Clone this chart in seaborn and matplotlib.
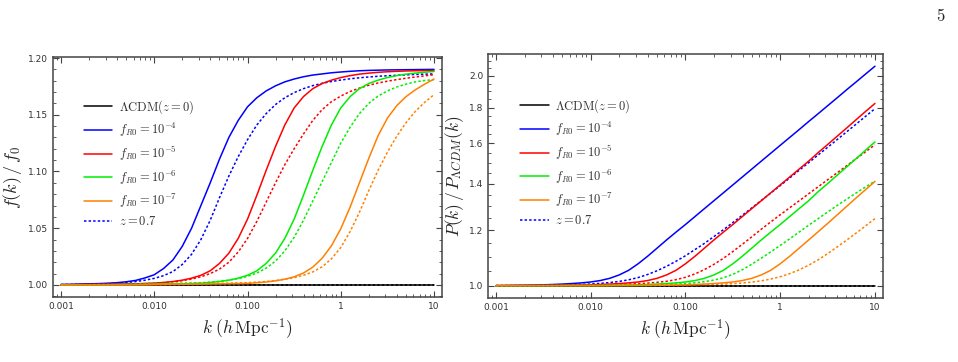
import numpy as np
import pandas as pd
import matplotlib
matplotlib.use("Agg")
import matplotlib.pyplot as plt
from matplotlib.lines import Line2D
from matplotlib.ticker import FixedLocator, FixedFormatter, MultipleLocator, NullFormatter
import seaborn as sns

sns.set_style("ticks")
plt.rcParams['mathtext.fontset'] = 'cm'
plt.rcParams['font.family'] = ['DejaVu Sans']

# log10(k) sampling points, k in h/Mpc
log_k = [-3.0, -2.9, -2.8, -2.7, -2.6, -2.5, -2.4, -2.3, -2.2, -2.1, -2.0,
         -1.9, -1.8, -1.7, -1.6, -1.5, -1.4, -1.3, -1.2, -1.1, -1.0,
         -0.9, -0.8, -0.7, -0.6, -0.5, -0.4, -0.3, -0.2, -0.1, 0.0,
         0.1, 0.2, 0.3, 0.4, 0.5, 0.6, 0.7, 0.8, 0.9, 1.0]

models = ['LCDM', 'fR4', 'fR5', 'fR6', 'fR7']
model_labels = [r'$\Lambda\mathrm{CDM}(z=0)$', r'$f_{R0}=10^{-4}$', r'$f_{R0}=10^{-5}$',
                r'$f_{R0}=10^{-6}$', r'$f_{R0}=10^{-7}$']
colors = ['#000000', '#0000ff', '#ff0000', '#00ee00', '#ff8000']

# growth rate ratio f(k)/f0, z = 0
f_lcdm = [1.0] * 41
f_fr4_z0 = [1.0005, 1.0006, 1.0008, 1.0010, 1.0012, 1.0015, 1.0020, 1.0028, 1.0040, 1.0062,
            1.0090, 1.0145, 1.0220, 1.0340, 1.0500, 1.0700, 1.0900, 1.1110, 1.1300, 1.1450,
            1.1570, 1.1650, 1.1710, 1.1755, 1.1790, 1.1815, 1.1835, 1.1850, 1.1860, 1.1870,
            1.1877, 1.1883, 1.1888, 1.1891, 1.1893, 1.1895, 1.1896, 1.1897, 1.1898, 1.1899, 1.1900]
f_fr5_z0 = [1.0000, 1.0001, 1.0003, 1.0004, 1.0005, 1.0006, 1.0008, 1.0009, 1.0010, 1.0013,
            1.0016, 1.0022, 1.0030, 1.0042, 1.0060, 1.0085, 1.0125, 1.0190, 1.0280, 1.0410,
            1.0580, 1.0790, 1.1010, 1.1220, 1.1410, 1.1560, 1.1660, 1.1730, 1.1775, 1.1805,
            1.1828, 1.1845, 1.1858, 1.1867, 1.1874, 1.1879, 1.1883, 1.1886, 1.1888, 1.1889, 1.1890]
f_fr6_z0 = [1.0000, 1.0000, 1.0000, 1.0000, 1.0000, 1.0000, 1.0001, 1.0003, 1.0004, 1.0005,
            1.0006, 1.0008, 1.0009, 1.0010, 1.0013, 1.0016, 1.0022, 1.0030, 1.0042, 1.0060,
            1.0085, 1.0125, 1.0190, 1.0280, 1.0410, 1.0580, 1.0790, 1.1010, 1.1220, 1.1410,
            1.1560, 1.1660, 1.1730, 1.1775, 1.1805, 1.1828, 1.1845, 1.1858, 1.1867, 1.1875, 1.1882]
f_fr7_z0 = [1.0000, 1.0000, 1.0000, 1.0000, 1.0000, 1.0000, 1.0000, 1.0000, 1.0001, 1.0002,
            1.0003, 1.0004, 1.0005, 1.0006, 1.0007, 1.0008, 1.0009, 1.0010, 1.0011, 1.0012,
            1.0014, 1.0019, 1.0026, 1.0036, 1.0051, 1.0072, 1.0105, 1.0157, 1.0235, 1.0345,
            1.0495, 1.0685, 1.0900, 1.1115, 1.1315, 1.1470, 1.1580, 1.1660, 1.1720, 1.1770, 1.1815]
# z = 0.7
f_fr4_z07 = [1.0003, 1.0004, 1.0005, 1.0007, 1.0009, 1.0012, 1.0016, 1.0022, 1.0030, 1.0042,
             1.0058, 1.0082, 1.0118, 1.0180, 1.0270, 1.0400, 1.0570, 1.0770, 1.0960, 1.1130,
             1.1280, 1.1410, 1.1510, 1.1590, 1.1650, 1.1695, 1.1730, 1.1757, 1.1777, 1.1793,
             1.1806, 1.1817, 1.1826, 1.1833, 1.1839, 1.1844, 1.1848, 1.1852, 1.1855, 1.1858, 1.1860]
f_fr5_z07 = [1.0000, 1.0001, 1.0002, 1.0003, 1.0004, 1.0005, 1.0006, 1.0008, 1.0010, 1.0012,
             1.0015, 1.0020, 1.0028, 1.0038, 1.0052, 1.0072, 1.0100, 1.0140, 1.0200, 1.0290,
             1.0410, 1.0560, 1.0730, 1.0900, 1.1060, 1.1200, 1.1330, 1.1450, 1.1545, 1.1615,
             1.1665, 1.1705, 1.1735, 1.1760, 1.1780, 1.1796, 1.1810, 1.1822, 1.1833, 1.1843, 1.1853]
f_fr6_z07 = [1.0000, 1.0000, 1.0001, 1.0002, 1.0003, 1.0004, 1.0005, 1.0006, 1.0007, 1.0008,
             1.0010, 1.0012, 1.0014, 1.0016, 1.0018, 1.0020, 1.0025, 1.0032, 1.0042, 1.0056,
             1.0076, 1.0105, 1.0148, 1.0210, 1.0300, 1.0420, 1.0570, 1.0740, 1.0910, 1.1080,
             1.1250, 1.1390, 1.1510, 1.1600, 1.1665, 1.1710, 1.1745, 1.1770, 1.1790, 1.1802, 1.1810]
f_fr7_z07 = [1.0000, 1.0000, 1.0000, 1.0000, 1.0000, 1.0000, 1.0001, 1.0002, 1.0003, 1.0004,
             1.0005, 1.0006, 1.0007, 1.0008, 1.0009, 1.0010, 1.0012, 1.0014, 1.0016, 1.0018,
             1.0020, 1.0025, 1.0031, 1.0039, 1.0050, 1.0064, 1.0085, 1.0115, 1.0160, 1.0230,
             1.0330, 1.0470, 1.0640, 1.0830, 1.1010, 1.1170, 1.1310, 1.1430, 1.1530, 1.1610, 1.1677]

# power spectrum ratio P(k)/P_LCDM(k), z = 0
p_lcdm = [1.0] * 41
p_fr4_z0 = [1.0000, 1.0005, 1.0010, 1.0015, 1.0020, 1.0028, 1.0038, 1.0052, 1.0070, 1.0092,
            1.0122, 1.0170, 1.0245, 1.0360, 1.0520, 1.0750, 1.1020, 1.1320, 1.1630, 1.1935,
            1.2240, 1.2565, 1.2900, 1.3240, 1.3590, 1.3950, 1.4320, 1.4700, 1.5090, 1.5490,
            1.5900, 1.6320, 1.6750, 1.7200, 1.7650, 1.8120, 1.8600, 1.9100, 1.9600, 2.0120, 2.0650]
p_fr5_z0 = [1.0000, 1.0001, 1.0002, 1.0003, 1.0004, 1.0005, 1.0007, 1.0010, 1.0015, 1.0020,
            1.0028, 1.0038, 1.0052, 1.0070, 1.0092, 1.0122, 1.0170, 1.0245, 1.0360, 1.0520,
            1.0750, 1.1020, 1.1320, 1.1630, 1.1935, 1.2240, 1.2565, 1.2900, 1.3240, 1.3590,
            1.3950, 1.4320, 1.4700, 1.5090, 1.5520, 1.5940, 1.6380, 1.6830, 1.7300, 1.7780, 1.8260]
p_fr6_z0 = [1.0000, 1.0000, 1.0000, 1.0001, 1.0001, 1.0002, 1.0002, 1.0003, 1.0003, 1.0004,
            1.0005, 1.0007, 1.0010, 1.0015, 1.0020, 1.0028, 1.0038, 1.0052, 1.0070, 1.0092,
            1.0122, 1.0170, 1.0245, 1.0360, 1.0520, 1.0750, 1.1020, 1.1320, 1.1630, 1.1935,
            1.2240, 1.2565, 1.2900, 1.3240, 1.3640, 1.4010, 1.4400, 1.4800, 1.5210, 1.5640, 1.6080]
p_fr7_z0 = [1.0000, 1.0000, 1.0000, 1.0000, 1.0000, 1.0000, 1.0000, 1.0000, 1.0001, 1.0001,
            1.0002, 1.0002, 1.0003, 1.0004, 1.0005, 1.0007, 1.0009, 1.0012, 1.0016, 1.0021,
            1.0028, 1.0038, 1.0052, 1.0070, 1.0092, 1.0122, 1.0170, 1.0245, 1.0360, 1.0520,
            1.0750, 1.1020, 1.1320, 1.1630, 1.1950, 1.2280, 1.2630, 1.2990, 1.3360, 1.3730, 1.4110]
# z = 0.7
p_fr4_z07 = [1.0000, 1.0000, 1.0002, 1.0004, 1.0007, 1.0011, 1.0016, 1.0022, 1.0030, 1.0040,
             1.0055, 1.0075, 1.0102, 1.0140, 1.0195, 1.0270, 1.0375, 1.0505, 1.0660, 1.0840,
             1.1040, 1.1265, 1.1500, 1.1760, 1.2030, 1.2320, 1.2620, 1.2930, 1.3250, 1.3580,
             1.3920, 1.4275, 1.4640, 1.5015, 1.5400, 1.5795, 1.6200, 1.6620, 1.7050, 1.7495, 1.7950]
p_fr5_z07 = [1.0000, 1.0000, 1.0001, 1.0002, 1.0003, 1.0004, 1.0005, 1.0007, 1.0010, 1.0013,
             1.0017, 1.0022, 1.0029, 1.0038, 1.0050, 1.0065, 1.0085, 1.0110, 1.0145, 1.0200,
             1.0280, 1.0395, 1.0545, 1.0730, 1.0945, 1.1195, 1.1465, 1.1750, 1.2050, 1.2345,
             1.2640, 1.2935, 1.3237, 1.3547, 1.3863, 1.4187, 1.4519, 1.4859, 1.5206, 1.5562, 1.5926]
p_fr6_z07 = [1.0000, 1.0000, 1.0000, 1.0000, 1.0000, 1.0001, 1.0001, 1.0002, 1.0002, 1.0003,
             1.0004, 1.0005, 1.0007, 1.0009, 1.0012, 1.0016, 1.0021, 1.0028, 1.0038, 1.0052,
             1.0070, 1.0095, 1.0130, 1.0185, 1.0265, 1.0380, 1.0540, 1.0735, 1.0950, 1.1180,
             1.1420, 1.1675, 1.1940, 1.2210, 1.2480, 1.2755, 1.3030, 1.3305, 1.3580, 1.3855, 1.4130]
p_fr7_z07 = [1.0000, 1.0000, 1.0000, 1.0000, 1.0000, 1.0000, 1.0000, 1.0000, 1.0000, 1.0000,
             1.0001, 1.0002, 1.0003, 1.0004, 1.0005, 1.0007, 1.0009, 1.0011, 1.0014, 1.0018,
             1.0022, 1.0027, 1.0033, 1.0041, 1.0052, 1.0067, 1.0088, 1.0117, 1.0160, 1.0220,
             1.0300, 1.0405, 1.0535, 1.0700, 1.0890, 1.1115, 1.1360, 1.1620, 1.1895, 1.2180, 1.2480]

x_ticks = [0.001, 0.01, 0.1, 1, 10]
x_ticklabels = ['0.001', '0.010', '0.100', '1', '10']
f_yticks = [1.00, 1.05, 1.10, 1.15, 1.20]
f_yticklabels = ['1.00', '1.05', '1.10', '1.15', '1.20']
p_yticks = [1.0, 1.2, 1.4, 1.6, 1.8, 2.0]
p_yticklabels = ['1.0', '1.2', '1.4', '1.6', '1.8', '2.0']


def make_df(z0_series, z07_series):
    rows = []
    k = 10 ** np.array(log_k)
    for m, s0, s7 in zip(models, z0_series, z07_series):
        rows.append(pd.DataFrame({'k': k, 'ratio': s0, 'model': m, 'z': '0'}))
        rows.append(pd.DataFrame({'k': k, 'ratio': s7, 'model': m, 'z': '0.7'}))
    return pd.concat(rows, ignore_index=True)


df_f = make_df([f_lcdm, f_fr4_z0, f_fr5_z0, f_fr6_z0, f_fr7_z0],
               [f_lcdm, f_fr4_z07, f_fr5_z07, f_fr6_z07, f_fr7_z07])
df_p = make_df([p_lcdm, p_fr4_z0, p_fr5_z0, p_fr6_z0, p_fr7_z0],
               [p_lcdm, p_fr4_z07, p_fr5_z07, p_fr6_z07, p_fr7_z07])

fig = plt.figure(figsize=(9.58, 3.62), dpi=100)
ax1 = fig.add_axes([0.0553, 0.1796, 0.4061, 0.6629])
ax2 = fig.add_axes([0.5094, 0.1768, 0.4123, 0.674])

dot = (1.6, 1.4)
legend_anchor = {ax1: (0.05, 0.875), ax2: (0.052, 0.869)}
for ax, df in [(ax1, df_f), (ax2, df_p)]:
    sns.lineplot(data=df, x='k', y='ratio', hue='model', style='z',
                 hue_order=models, palette=colors, style_order=['0', '0.7'],
                 dashes={'0': '', '0.7': dot}, estimator=None, sort=False,
                 linewidth=1.1, legend=False, ax=ax)
    ax.set_xscale('log')
    ax.xaxis.set_major_locator(FixedLocator(x_ticks))
    ax.xaxis.set_major_formatter(FixedFormatter(x_ticklabels))
    ax.xaxis.set_minor_formatter(NullFormatter())
    ax.set_xlabel(r'$k\;(h\,\mathrm{Mpc}^{-1})$', fontsize=12.5, labelpad=4)
    ax.tick_params(which='both', direction='in', top=True, right=True,
                   colors='#444444', labelcolor='#333333', labelsize=6.5)
    ax.tick_params(which='major', length=4, width=0.8)
    ax.tick_params(which='minor', length=2, width=0.6)
    for sp in ax.spines.values():
        sp.set_color('#444444')
        sp.set_linewidth(1.1)

    handles = [Line2D([], [], color=c, lw=1.1) for c in colors]
    handles.append(Line2D([], [], color='#0000ff', lw=1.1, dashes=dot))
    ax.legend(handles, model_labels + [r'$z=0.7$'], loc='upper left',
              bbox_to_anchor=legend_anchor[ax], frameon=False, fontsize=9,
              handlelength=2.3, handletextpad=0.5, labelspacing=0.42,
              labelcolor='#333333')

ax1.set_xlim(8.2e-4, 12.19)
ax1.set_ylim(0.9894, 1.2009)
ax1.yaxis.set_major_locator(FixedLocator(f_yticks))
ax1.yaxis.set_major_formatter(FixedFormatter(f_yticklabels))
ax1.yaxis.set_minor_locator(MultipleLocator(0.01))
ax1.set_ylabel(r'$f(k)\,/\,f_0$', fontsize=13, labelpad=3)

ax2.set_yscale('log')
ax2.set_xlim(8.23e-4, 12.15)
ax2.set_ylim(0.960, 2.150)
ax2.yaxis.set_major_locator(FixedLocator(p_yticks))
ax2.yaxis.set_major_formatter(FixedFormatter(p_yticklabels))
ax2.yaxis.set_minor_locator(FixedLocator(np.arange(0.95, 2.15, 0.05)))
ax2.yaxis.set_minor_formatter(NullFormatter())
ax2.set_ylabel(r'$P(k)\,/\,P_{\Lambda CDM}(k)$', fontsize=12.5, labelpad=2)

fig.text(0.987, 0.955, r'$5$', fontsize=12, ha='right', va='center')

fig.savefig('out.png', dpi=100, facecolor='white')
